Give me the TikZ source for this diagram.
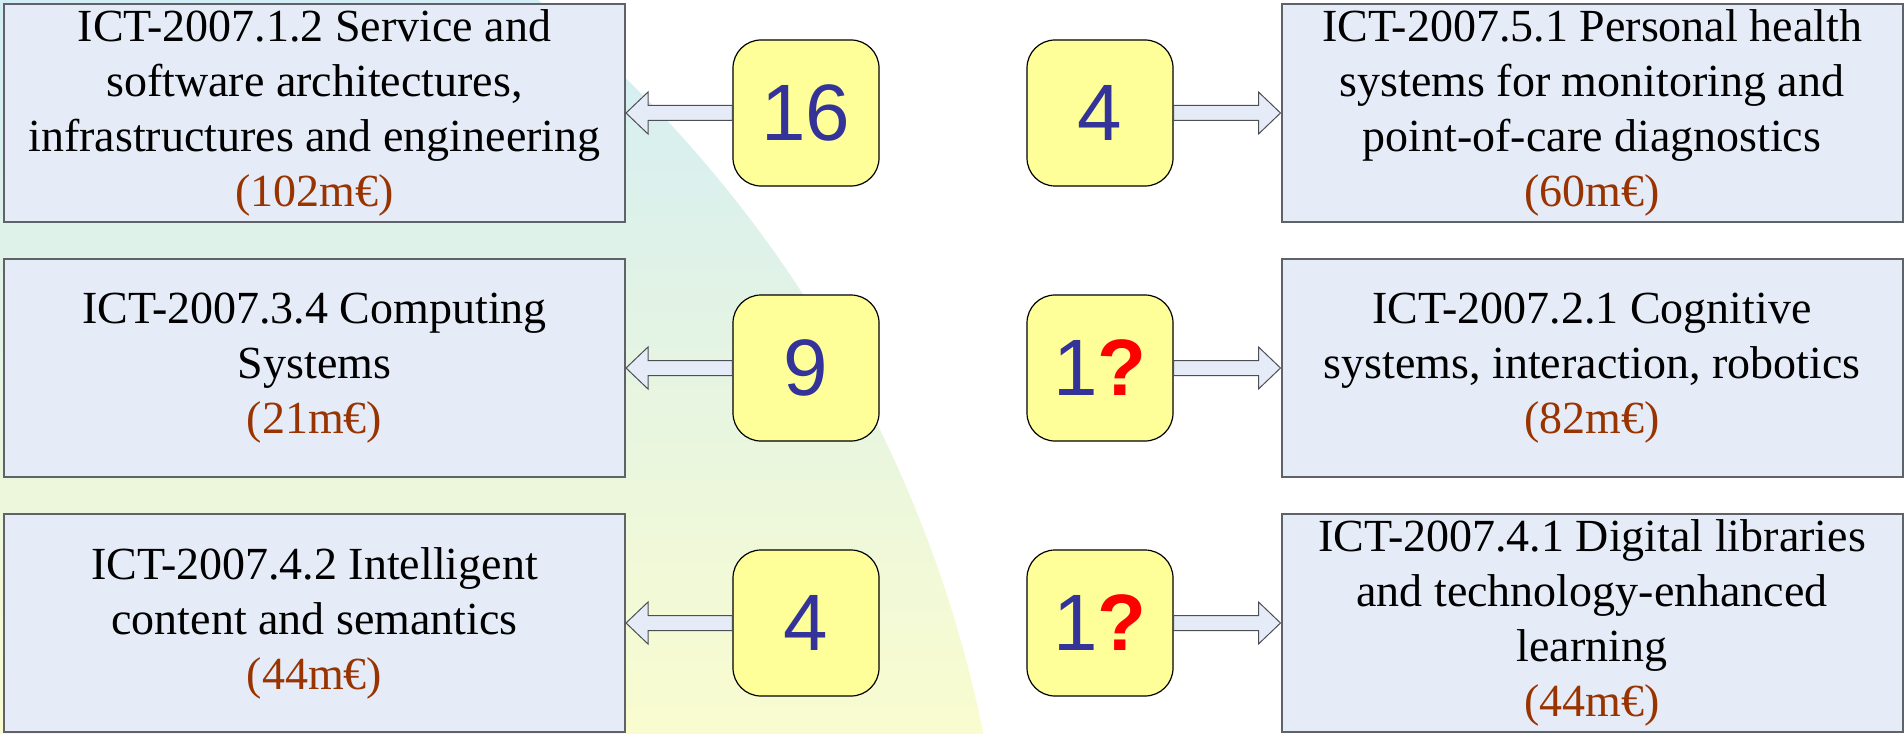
\documentclass[tikz,border=0pt]{standalone}
\usepackage{fontspec}
\setmainfont{Liberation Serif}
\newfontfamily\numfont{Liberation Sans}
\usepackage{xcolor}
\usepackage{tikz}
\usetikzlibrary{positioning, calc}
\definecolor{ict-fill}{HTML}{E6ECF7}
\definecolor{ict-edge}{HTML}{5F6369}
\definecolor{ict-yellow}{HTML}{FFFF99}
\definecolor{ict-navy}{HTML}{333399}
\definecolor{ict-red}{HTML}{FF0000}
\definecolor{ict-brown}{HTML}{993300}
\definecolor{ict-cyan}{HTML}{D2EDF6}
\definecolor{ict-lime}{HTML}{F9FCCF}

\newcommand{\budget}[1]{\textcolor{ict-brown}{(#1)}}
% hollow block arrow: #1 from, #2 tip, #3 signed head length
\newcommand{\hollowarrow}[3]{%
  \draw[hollow] let \p1=(#1), \p2=(#2) in
    (\x1,\y1+3.75pt) -- (\x2+#3,\y1+3.75pt) -- (\x2+#3,\y1+10.5pt)
    -- (\x2,\y1) -- (\x2+#3,\y1-10.5pt) -- (\x2+#3,\y1-3.75pt)
    -- (\x1,\y1-3.75pt) -- cycle;
}

\begin{document}
\begin{tikzpicture}[x=0.5pt, y=-0.5pt,
    topic/.style={draw=ict-edge, line width=1pt, fill=ict-fill,
      minimum width=310.5pt, minimum height=109pt, inner sep=0pt,
      align=center, font=\fontsize{23}{27.5}\selectfont},
    count/.style={draw=black, line width=0.6pt, fill=ict-yellow,
      rounded corners=14pt, minimum width=73pt, minimum height=73pt,
      inner sep=0pt, text=ict-navy, font=\numfont\fontsize{40}{44}\selectfont},
    hollow/.style={draw=ict-edge!80!black, line width=0.5pt, fill=ict-fill}]
    \useasboundingbox (0,0) rectangle (1904,733);

    % background disc
    \begin{scope}
        \clip (-265,989) circle (1274);
        \shade[top color=ict-cyan, bottom color=ict-lime] (0,0) rectangle (1100,733);
    \end{scope}

    % topics
    \node[topic] (L1) at (314.5,113) {ICT-2007.1.2 Service and\\ software architectures,\\ infrastructures and engineering\\ \budget{102m€}};
    \node[topic] (L2) at (314.5,368) {ICT-2007.3.4 Computing\\ Systems\\ \budget{21m€}};
    \node[topic] (L3) at (314.5,623) {ICT-2007.4.2 Intelligent\\ content and semantics\\ \budget{44m€}};
    \node[topic] (R1) at (1592,113) {ICT-2007.5.1 Personal health\\ systems for monitoring and\\ point-of-care diagnostics\\ \budget{60m€}};
    \node[topic] (R2) at (1592,368) {ICT-2007.2.1 Cognitive\\ systems, interaction, robotics\\ \budget{82m€}};
    \node[topic] (R3) at (1592,623) {ICT-2007.4.1 Digital libraries\\ and technology-enhanced\\ learning\\ \budget{44m€}};

    % counts
    \node[count] (cL1) at (806,113) {16};
    \node[count] (cL2) at (806,368) {9};
    \node[count] (cL3) at (806,623) {4};
    \node[count] (cR1) at (1100,113) {4};
    \node[count] (cR2) at (1100,368) {1\textcolor{ict-red}{\bfseries ?}};
    \node[count] (cR3) at (1100,623) {1\textcolor{ict-red}{\bfseries ?}};

    \foreach \k in {1,2,3} {
        \hollowarrow{cL\k.west}{L\k.east}{11pt}
        \hollowarrow{cR\k.east}{R\k.west}{-11pt}
    }
\end{tikzpicture}
\end{document}
